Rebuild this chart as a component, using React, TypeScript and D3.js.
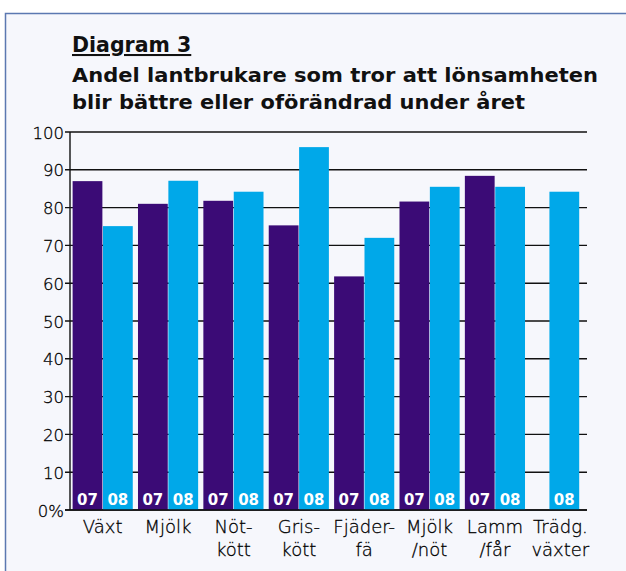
import React from 'react';
import * as d3 from 'd3';

// data
const categories = ['Växt', 'Mjölk', 'Nötkött', 'Griskött', 'Fjäderfä', 'Mjölk/nöt', 'Lamm/får', 'Trädgväxter'];
const categoryLabels = [['Växt'], ['Mjölk'], ['Nöt-', 'kött'], ['Gris-', 'kött'], ['Fjäder-', 'fä'], ['Mjölk', '/nöt'], ['Lamm', '/får'], ['Trädg.', 'växter']];
const years = ['07', '08'];
const values07 = [87, 81, 81.8, 75.3, 61.8, 81.6, 88.4, null];
const values08 = [75.1, 87.1, 84.2, 96, 72, 85.5, 85.5, 84.2];
const yTicks = [0, 10, 20, 30, 40, 50, 60, 70, 80, 90, 100];
const colors = { '07': '#3b0b76', '08': '#00a8e9' };

const W = 626;
const H = 571;
const margin = { top: 132, bottom: 61, left: 70 };
const gridRight = 587;

const App = () => {
  const x0 = d3.scaleBand<string>()
    .domain(categories)
    .range([margin.left, 593])
    .paddingInner(0.08)
    .paddingOuter(0.04);

  const x1 = d3.scaleBand<string>()
    .domain(years)
    .range([0, x0.bandwidth()])
    .paddingInner(0.02);

  const y = d3.scaleLinear()
    .domain([0, 100])
    .range([H - margin.bottom, margin.top]);

  const series = { '07': values07, '08': values08 };
  const font = '"DejaVu Sans", sans-serif';

  return (
    <svg width={W} height={H} style={{ position: 'absolute', left: 0, top: 0 }}>
      <rect x={0} y={0} width={W} height={H} fill="#fff" />
      <rect x={5.5} y={13.5} width={W + 10} height={H + 10} fill="#f6f7fc" stroke="#5b78b1" strokeWidth={1.5} />

      {/* titles */}
      <text x={72} y={52} fontFamily={font} fontWeight="bold" fontSize={20.5} fill="#111" textDecoration="underline">Diagram 3</text>
      <text x={72} y={82} fontFamily={font} fontWeight="bold" fontSize={20} fill="#111" textLength={526} lengthAdjust="spacingAndGlyphs">Andel lantbrukare som tror att lönsamheten</text>
      <text x={72} y={109} fontFamily={font} fontWeight="bold" fontSize={20} fill="#111" textLength={453} lengthAdjust="spacingAndGlyphs">blir bättre eller oförändrad under året</text>

      {/* grid and y axis */}
      {yTicks.map(t => (
        <g key={t}>
          <line x1={margin.left - 5} x2={gridRight} y1={y(t)} y2={y(t)} stroke="#111" strokeWidth={1.4} />
          <text x={64} y={y(t) + 6.5} textAnchor="end" fontFamily={font} fontWeight={300} fontSize={16.5} fill="#000" stroke="#000" strokeWidth={0.3}>
            {t === 0 ? '0%' : t}
          </text>
        </g>
      ))}

      {/* bars */}
      {categories.map((c, i) => {
        const single = series['07'][i] == null;
        return (
          <g key={c} transform={`translate(${x0(c)},0)`}>
            {years.map(yr => {
              const v = series[yr][i];
              if (v == null) return null;
              const bw = x1.bandwidth();
              const bx = single ? (x0.bandwidth() - bw) / 2 + 4 : x1(yr)!;
              return (
                <g key={yr}>
                  <rect x={bx} y={y(v)} width={bw} height={y(0) - y(v)} fill={colors[yr]} />
                  <text x={bx + bw / 2} y={y(0) - 5} textAnchor="middle" fontFamily={font} fontWeight="bold" fontSize={15} fill="#fff">{yr}</text>
                </g>
              );
            })}
          </g>
        );
      })}

      <line x1={margin.left} x2={margin.left} y1={y(100)} y2={y(0)} stroke="#111" strokeWidth={1.4} />
      <line x1={margin.left - 5} x2={gridRight} y1={y(0)} y2={y(0)} stroke="#111" strokeWidth={1.4} />

      {/* category labels */}
      {categories.map((c, i) => (
        <text key={c} textAnchor="middle" fontFamily={font} fontWeight={300} fontSize={18} fill="#000" stroke="#000" strokeWidth={0.3}>
          {categoryLabels[i].map((ln, j) => (
            <tspan key={j} x={x0(c)! + x0.bandwidth() / 2} y={533 + j * 23}>{ln}</tspan>
          ))}
        </text>
      ))}
    </svg>
  );
};

export default App;
